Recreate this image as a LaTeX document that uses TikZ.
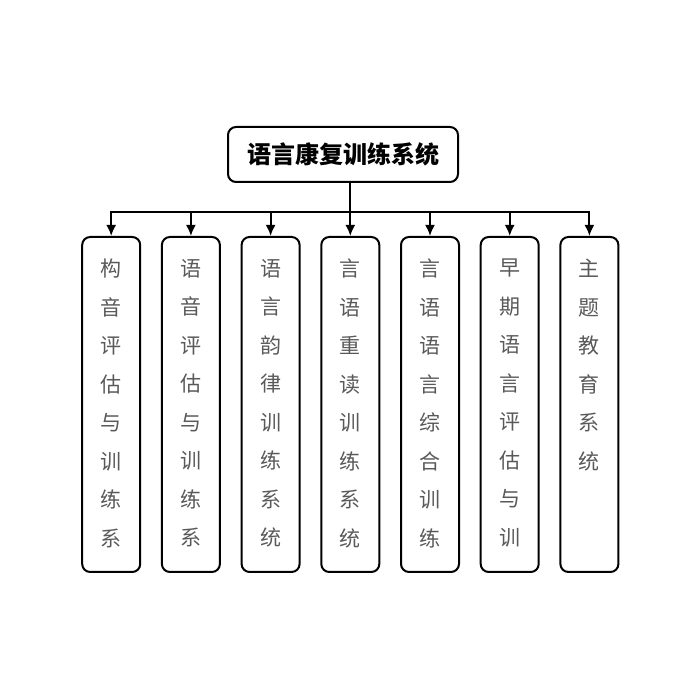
\documentclass[tikz,border=0pt]{standalone}
\usepackage{fontspec}
\newfontfamily\cjk{Noto Sans CJK SC}
\usetikzlibrary{positioning,arrows.meta}

\begin{document}
\begin{tikzpicture}[> = {Latex[length=5.5pt,width=5pt]}, x=0.5pt, y=0.5pt, line width=1pt]
    \tikzset{
      topbox/.style={
        draw, rectangle, rounded corners=4pt, minimum width=115pt, minimum height=27.5pt,
        font=\cjk\bfseries\fontsize{12}{14}\selectfont,
      },
      colbox/.style={
        draw, rectangle, rounded corners=4pt, minimum width=29pt, minimum height=167.5pt,
      },
      coltext/.style={
        inner sep=0pt, align=center, text=black!65, font=\cjk\fontsize{10.5}{19.25}\selectfont,
      }
    }
    \useasboundingbox (0,0) rectangle (700,700);
    % title
    \node (title) [topbox] at (343,545.5) {语言康复训练系统};
    % columns
    \foreach[count=\i] \txt in {构\\音\\评\\估\\与\\训\\练\\系, 语\\音\\评\\估\\与\\训\\练\\系, 语\\言\\韵\\律\\训\\练\\系\\统, 言\\语\\重\\读\\训\\练\\系\\统, 言\\语\\语\\言\\综\\合\\训\\练, 早\\期\\语\\言\\评\\估\\与\\训, 主\\题\\教\\育\\系\\统} {
      \node (col\i) [colbox] at (31.5+79.7*\i,295.5) {};
      \node (txt\i) [coltext, below=11pt of col\i.north] {\txt};
    }
    % arrows
    \coordinate (bus) at (0,488);
    \draw[<->] (col1.north) -- (col1.north |- bus) -- (col7.north |- bus) -- (col7.north);
    \foreach \i in {2,3,5,6} {
      \draw[->] (col\i.north |- bus) -- (col\i.north);
    }
    \draw[->] (title.south -| col4.north) -- (col4.north);
\end{tikzpicture}
\end{document}
